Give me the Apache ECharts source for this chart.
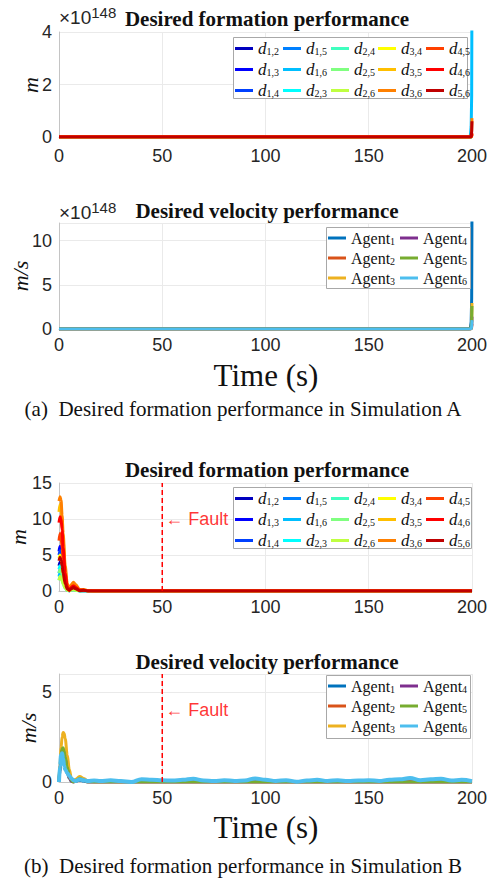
<!DOCTYPE html>
<html>
<head>
<meta charset="utf-8">
<script src="https://cdn.jsdelivr.net/npm/echarts@6/dist/echarts.min.js"></script>
<style>
  html, body { margin: 0; padding: 0; background: #fff; }
  #chart { width: 490px; height: 885px; }
</style>
</head>
<body>
<div id="chart"></div>
<script>
// ----- names and colours -----
var pairNames = ['d_1,2', 'd_1,3', 'd_1,4', 'd_1,5', 'd_1,6', 'd_2,3', 'd_2,4', 'd_2,5',
                 'd_2,6', 'd_3,4', 'd_3,5', 'd_3,6', 'd_4,5', 'd_4,6', 'd_5,6'];
var pairColors = ['#0000BF', '#0000FF', '#0040FF', '#0080FF', '#00BFFF', '#00FFFF', '#40FFBF', '#80FF80',
                  '#BFFF40', '#FFFF00', '#FFBF00', '#FF8000', '#FF4000', '#FF0000', '#BF0000'];
var agentNames = ['Agent_1', 'Agent_2', 'Agent_3', 'Agent_4', 'Agent_5', 'Agent_6'];
var agentColors = ['#0072BD', '#D95319', '#EDB120', '#7E2F8E', '#77AC30', '#4DBEEE'];

var xTicks = [0, 50, 100, 150, 200];

// ----- Simulation A (values in units of 1e148) -----
var tA = [0, 100, 198.5, 199.2, 199.6, 199.85, 200];
var formA = [
  [0, 0, 0, 0, 0, 0.01, 0.03],    // d12
  [0, 0, 0, 0, 0, 0.01, 0.04],    // d13
  [0, 0, 0, 0, 0, 0.01, 0.03],    // d14
  [0, 0, 0, 0, 0.01, 0.02, 0.06], // d15
  [0, 0, 0, 0.05, 0.4, 1.6, 6.0], // d16
  [0, 0, 0, 0, 0, 0.01, 0.04],    // d23
  [0, 0, 0, 0, 0, 0.01, 0.03],    // d24
  [0, 0, 0, 0, 0, 0.01, 0.03],    // d25
  [0, 0, 0, 0, 0, 0.01, 0.03],    // d26
  [0, 0, 0, 0, 0.01, 0.02, 0.05], // d34
  [0, 0, 0, 0, 0.02, 0.05, 0.12], // d35
  [0, 0, 0, 0, 0.05, 0.25, 0.72], // d36
  [0, 0, 0, 0, 0.01, 0.04, 0.1],  // d45
  [0, 0, 0, 0, 0.01, 0.05, 0.15], // d46
  [0, 0, 0, 0, 0.04, 0.2, 0.6]    // d56
];
var velA = [
  [0, 0, 0, 0.1, 0.8, 3.5, 14],  // Agent1
  [0, 0, 0, 0, 0.05, 0.2, 0.6],  // Agent2
  [0, 0, 0, 0, 0.1, 0.9, 2.95],  // Agent3
  [0, 0, 0, 0, 0.05, 0.4, 1.4],  // Agent4
  [0, 0, 0, 0, 0.1, 0.8, 2.6],   // Agent5
  [0, 0, 0, 0, 0.05, 0.3, 1.0]   // Agent6
];

// ----- Simulation B -----
var tB = [0, 0.5, 1, 1.5, 2, 3, 4, 5, 6, 7, 8, 10, 12, 14, 17, 20, 200];
var formB = [
  [3.5, 4.0, 3.8, 3.0, 2.0, 0.8, 0.2, 0.05, 0.2, 0.3, 0.2, 0.05, 0.05, 0, 0, 0, 0],
  [5.5, 6.2, 5.8, 4.5, 3.0, 1.2, 0.3, 0.05, 0.3, 0.4, 0.3, 0.05, 0.05, 0, 0, 0, 0],
  [5.0, 5.6, 5.0, 3.8, 2.5, 0.9, 0.2, 0.05, 0.25, 0.35, 0.2, 0.05, 0.05, 0, 0, 0, 0],
  [2.5, 3.0, 2.8, 2.2, 1.5, 0.6, 0.15, 0.05, 0.2, 0.25, 0.15, 0, 0.05, 0, 0, 0, 0],
  [2.0, 2.6, 2.4, 1.9, 1.3, 0.5, 0.1, 0.05, 0.15, 0.2, 0.1, 0, 0.05, 0, 0, 0, 0],
  [3.0, 3.5, 3.2, 2.5, 1.7, 0.6, 0.15, 0.05, 0.2, 0.25, 0.15, 0.05, 0.05, 0, 0, 0, 0],
  [1.5, 2.0, 1.9, 1.5, 1.0, 0.4, 0.1, 0.05, 0.15, 0.2, 0.1, 0, 0.05, 0, 0, 0, 0],
  [2.5, 3.0, 2.8, 2.2, 1.5, 0.6, 0.15, 0.05, 0.2, 0.3, 0.2, 0.05, 0.05, 0, 0, 0, 0],
  [1.5, 2.0, 1.8, 1.4, 1.0, 0.4, 0.1, 0.05, 0.15, 0.2, 0.1, 0, 0.05, 0, 0, 0, 0],
  [4.5, 5.0, 4.6, 3.6, 2.5, 1.0, 0.3, 0.1, 0.4, 0.6, 0.4, 0.1, 0.1, 0, 0, 0, 0],
  [11.0, 12.0, 11.5, 9.5, 7.0, 3.0, 0.8, 0.2, 0.7, 1.0, 0.7, 0.15, 0.15, 0.05, 0, 0, 0],
  [12.5, 13.1, 12.6, 10.5, 8.0, 3.5, 1.0, 0.3, 0.9, 1.2, 0.9, 0.2, 0.2, 0.05, 0, 0, 0],
  [7.0, 8.0, 7.5, 6.0, 4.5, 1.8, 0.5, 0.1, 0.5, 0.7, 0.5, 0.1, 0.1, 0, 0, 0, 0],
  [9.5, 10.3, 10.0, 8.5, 6.0, 2.5, 0.6, 0.1, 0.5, 0.7, 0.5, 0.1, 0.1, 0, 0, 0, 0],
  [4.2, 4.7, 4.3, 3.5, 2.5, 1.0, 0.3, 0.1, 0.3, 0.5, 0.3, 0.05, 0.1, 0, 0, 0, 0]
];
var tV = [0, 0.5, 1, 1.5, 2, 2.5, 3, 4, 5, 6, 7, 8, 10, 12, 14, 17, 20, 200];
var velB = [
  [0, 0.6, 1.1, 1.3, 1.25, 1.1, 0.9, 0.5, 0.2, 0.05, 0, 0.05, 0.1, 0.05, 0, 0, 0, 0],
  [0, 0.7, 1.3, 1.6, 1.6, 1.4, 1.1, 0.6, 0.25, 0.05, 0, 0.05, 0.15, 0.1, 0, 0, 0, 0],
  [0.1, 1.0, 1.9, 2.5, 2.75, 2.7, 2.4, 1.5, 0.7, 0.2, 0.05, 0.15, 0.3, 0.2, 0.05, 0, 0, 0],
  [0, 0.8, 1.4, 1.75, 1.8, 1.6, 1.3, 0.7, 0.3, 0.05, 0, 0.05, 0.15, 0.1, 0, 0, 0, 0],
  [0, 0.9, 1.5, 1.85, 1.9, 1.7, 1.4, 0.8, 0.35, 0.1, 0, 0.05, 0.2, 0.1, 0, 0, 0, 0]
];
var tV6 = [0, 0.5, 1, 1.5, 2, 2.5, 3, 4, 5, 6, 7, 8, 10, 12, 14, 17, 20,
           25, 30, 35, 40, 45, 50, 55, 60, 65, 70, 75, 80, 85, 90, 95, 100, 105, 110,
           115, 120, 125, 130, 135, 140, 145, 150, 155, 160, 165, 170, 175, 180, 185, 190, 195, 200];
var agent6B = [0, 0.9, 1.5, 1.6, 1.3, 0.9, 0.7, 0.5, 0.35, 0.2, 0.1, 0.05, 0.15, 0.1, 0.05, 0.08, 0.05,
               0.1, 0.05, 0.0, 0.15, 0.12, 0.1, 0.08, 0.12, 0.18, 0.08, 0.05, 0.1, 0.06, 0.08, 0.2, 0.12, 0.06, 0.1,
               0.02, 0.08, 0.12, 0.06, 0.1, 0.05, 0.08, 0.1, 0.06, 0.12, 0.15, 0.22, 0.1, 0.15, 0.18, 0.08, 0.12, 0.05];

var faultTime = 50;
var faultLineB1 = [[faultTime, 0], [faultTime, 15]];
var faultLineB2 = [[faultTime, 0], [faultTime, 6]];
var faultLabelB1 = [[faultTime, 10]];
var faultLabelB2 = [[faultTime, 4]];

// ----- styles -----
var sans = 'Liberation Sans, Arial, sans-serif';
var serif = 'Liberation Serif, Times New Roman, serif';
var plotTops = [32, 223, 483, 674];
var plotHeights = [105, 106, 108, 108];
var yMax = [4, 12, 15, 6];
var yStep = [2, 5, 5, 5];

function pairs(t, v) {
  return t.map(function (x, i) { return [x, v[i]]; });
}

function lineSeries(name, color, idx, data, width, smooth) {
  return {
    name: name, type: 'line', xAxisIndex: idx, yAxisIndex: idx,
    data: data, symbol: 'none', smooth: smooth, smoothMonotone: 'x',
    lineStyle: { color: color, width: width }, itemStyle: { color: color },
    emphasis: { disabled: true }
  };
}

var series = [];
pairNames.forEach(function (n, i) {
  series.push(lineSeries(n, pairColors[i], 0, pairs(tA, formA[i]), 3, false));
});
agentNames.forEach(function (n, i) {
  series.push(lineSeries(n, agentColors[i], 1, pairs(tA, velA[i]), 3, false));
});
pairNames.forEach(function (n, i) {
  series.push(lineSeries(n, pairColors[i], 2, pairs(tB, formB[i]), 3, 0.3));
});
agentNames.forEach(function (n, i) {
  var d = i < 5 ? pairs(tV, velB[i]) : pairs(tV6, agent6B);
  series.push(lineSeries(n, agentColors[i], 3, d, i < 5 ? 3 : 4, 0.4));
});

function faultSeries(idx, line, lab) {
  return [{
    type: 'line', xAxisIndex: idx, yAxisIndex: idx, data: line, symbol: 'none', silent: true,
    lineStyle: { color: '#FF0000', width: 1.5, type: [5, 3] }
  }, {
    type: 'scatter', xAxisIndex: idx, yAxisIndex: idx, data: lab, symbolSize: 0, silent: true,
    label: { show: true, position: 'right', distance: 3, formatter: '\u2190 Fault',
             color: '#FF0000', fontFamily: sans, fontSize: 18 }
  }];
}
series = series.concat(faultSeries(2, faultLineB1, faultLabelB1), faultSeries(3, faultLineB2, faultLabelB2));

var grids = [], xAxes = [], yAxes = [];
for (var k = 0; k < 4; k++) {
  grids.push({ left: 59, width: 416, top: plotTops[k], height: plotHeights[k] });
  xAxes.push({
    type: 'value', gridIndex: k, min: xTicks[0], max: xTicks[xTicks.length - 1], interval: 50,
    axisLine: { onZero: false, lineStyle: { color: '#C4C4C4' } }, axisTick: { show: false },
    axisLabel: { color: '#262626', fontFamily: sans, fontSize: 18, margin: k === 0 ? 10 : 7 },
    splitLine: { lineStyle: { color: '#EAEAEA' } }
  });
  var yLabel = { color: '#262626', fontFamily: sans, fontSize: 18, margin: 7 };
  if (k === 1 || k === 3) yLabel.showMaxLabel = false;
  yAxes.push({
    type: 'value', gridIndex: k, min: 0, max: yMax[k], interval: yStep[k],
    axisLine: { show: true, lineStyle: { color: '#C4C4C4' } }, axisTick: { show: false },
    axisLabel: yLabel,
    splitLine: { lineStyle: { color: '#EAEAEA' } }
  });
}

var legendRich = {
  d: { fontFamily: serif, fontStyle: 'italic', fontSize: 17, lineHeight: 16, color: '#111' },
  a: { fontFamily: serif, fontSize: 16, lineHeight: 16, color: '#111' },
  s: { fontFamily: serif, fontSize: 10, lineHeight: 10, padding: [6, 0, 0, 0], color: '#111' }
};
// one vertical legend per legend column
function legendCol(left, top, names) {
  return {
    data: names, top: top, left: left, orient: 'vertical',
    icon: 'rect', itemWidth: 18, itemHeight: 3, itemGap: 4, padding: 0,
    selectedMode: false, z: 6,
    formatter: function (name) {
      var p = name.split('_');
      return (p[0] === 'd' ? '{d|d}' : '{a|Agent}') + '{s|' + p[1] + '}';
    },
    textStyle: { rich: legendRich }
  };
}
var pairCols = [pairNames.slice(0, 3), pairNames.slice(3, 6), pairNames.slice(6, 9),
                pairNames.slice(9, 12), pairNames.slice(12, 15)];
var pairColX = [235, 283, 331, 378, 426];
var agentCols = [agentNames.slice(0, 3), agentNames.slice(3, 6)];
var agentColX = [328, 400];

var legends = [];
[40, 490].forEach(function (top) {
  pairCols.forEach(function (c, i) { legends.push(legendCol(pairColX[i], top, c)); });
});
[230, 678].forEach(function (top) {
  agentCols.forEach(function (c, i) { legends.push(legendCol(agentColX[i], top, c)); });
});

function box(x, y, w, h) {
  return { type: 'rect', shape: { x: x, y: y, width: w, height: h }, z: 5, silent: true,
           style: { fill: '#fff', stroke: '#A8A8A8', lineWidth: 1 } };
}

function txt(x, y, text, font) {
  return { type: 'text', x: x, y: y, silent: true,
           style: { text: text, font: font, fill: '#111', align: 'center', verticalAlign: 'middle' } };
}
function expo(x, y) {
  return {
    type: 'text', x: x, y: y, silent: true,
    style: {
      text: '{a|\u00d710}{b|148}', align: 'left', verticalAlign: 'middle',
      rich: {
        a: { fontFamily: sans, fontSize: 19, fill: '#262626', color: '#262626' },
        b: { fontFamily: sans, fontSize: 15, padding: [0, 0, 10, 0], fill: '#262626', color: '#262626' }
      }
    }
  };
}
function yName(x, y, text) {
  var g = txt(x, y, text, 'italic 22px ' + serif);
  g.rotation = Math.PI / 2;
  return g;
}

var graphics = [
  box(233.5, 37.5, 234, 61),
  box(326.5, 227.5, 144, 61),
  box(233.5, 487.5, 238, 61),
  box(326.5, 675.5, 144, 63),
  expo(59, 17),
  expo(59, 212),
  txt(267, 19, 'Desired formation performance', 'bold 21px ' + serif),
  txt(267, 211, 'Desired velocity performance', 'bold 21px ' + serif),
  txt(267, 470, 'Desired formation performance', 'bold 21px ' + serif),
  txt(267, 662, 'Desired velocity performance', 'bold 21px ' + serif),
  yName(30, 85, 'm'),
  yName(20, 276, 'm/s'),
  yName(18, 537, 'm'),
  yName(28, 728, 'm/s'),
  txt(266, 375, 'Time (s)', '31px ' + serif),
  txt(266, 827, 'Time (s)', '31px ' + serif),
  txt(243, 409, '(a)  Desired formation performance in Simulation A', '21px ' + serif),
  txt(243, 866, '(b)  Desired formation performance in Simulation B', '21px ' + serif)
];

var chart = echarts.init(document.getElementById('chart'), null, { renderer: 'svg' });
chart.setOption({
  animation: false,
  backgroundColor: '#fff',
  grid: grids,
  xAxis: xAxes,
  yAxis: yAxes,
  legend: legends,
  graphic: graphics,
  series: series
});
</script>
</body>
</html>
